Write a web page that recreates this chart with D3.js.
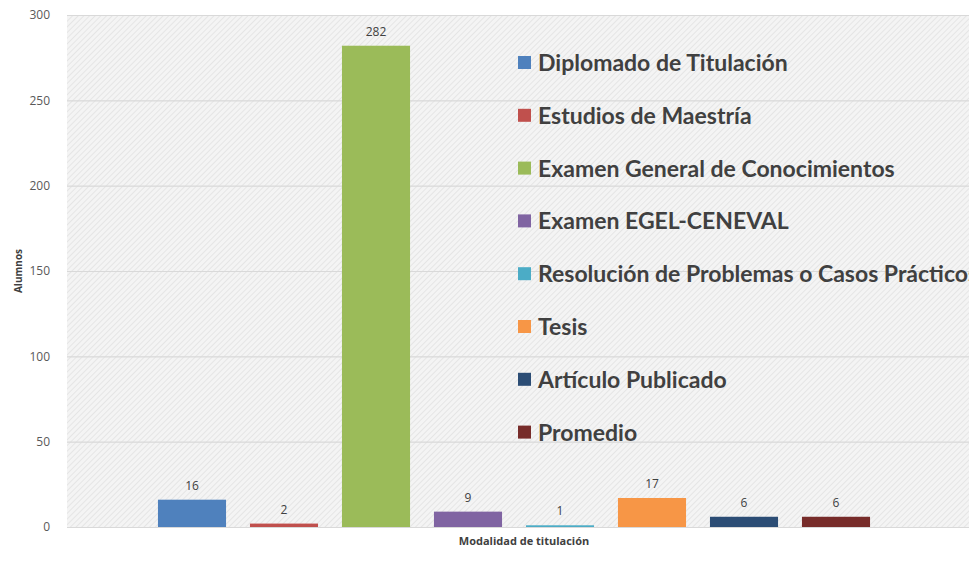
<!DOCTYPE html>
<html>
<head>
<meta charset="utf-8">
<script src="https://cdn.jsdelivr.net/npm/d3@7"></script>
<style>
  body { margin: 0; background: #fff; }
  svg { display: block; }
</style>
</head>
<body>
<div id="chart"></div>
<script>
const categories = [
  "Diplomado de Titulación",
  "Estudios de Maestría",
  "Examen General de Conocimientos",
  "Examen EGEL-CENEVAL",
  "Resolución de Problemas o Casos Prácticos",
  "Tesis",
  "Artículo Publicado",
  "Promedio"
];
const values = [16, 2, 282, 9, 1, 17, 6, 6];
const colors = ["#4F81BD", "#C0504D", "#9BBB59", "#8064A2", "#4BACC6", "#F79646", "#2C4D75", "#772C2A"];
const yTicks = [0, 50, 100, 150, 200, 250, 300];

const width = 969, height = 570;
const margin = { top: 15, right: 0, bottom: 43, left: 67 };
const innerWidth = width - margin.left - margin.right;
const innerHeight = height - margin.top - margin.bottom;

const svg = d3.select("#chart").append("svg")
  .attr("width", width)
  .attr("height", height);

// fondo rayado
const defs = svg.append("defs");
const pat = defs.append("pattern")
  .attr("id", "hatch")
  .attr("patternUnits", "userSpaceOnUse")
  .attr("width", 4)
  .attr("height", 4)
  .attr("patternTransform", "rotate(45)");
pat.append("rect").attr("width", 4).attr("height", 4).attr("fill", "#f4f4f4");
pat.append("line")
  .attr("x1", 0).attr("y1", 0).attr("x2", 0).attr("y2", 4)
  .attr("stroke", "#dcdcdc").attr("stroke-width", 1.2);

const g = svg.append("g")
  .attr("transform", `translate(${margin.left},${margin.top})`);

g.append("rect")
  .attr("width", innerWidth)
  .attr("height", innerHeight)
  .attr("fill", "url(#hatch)");

const x = d3.scaleBand()
  .domain(categories)
  .range([146 - margin.left, 882 - margin.left])
  .paddingInner(0.26)
  .paddingOuter(0.13);

const y = d3.scaleLinear()
  .domain([0, 300])
  .range([innerHeight, 0]);

// grid
g.append("g")
  .call(d3.axisLeft(y).tickValues(yTicks).tickSize(-innerWidth).tickFormat(""))
  .call(s => s.select(".domain").remove())
  .selectAll("line")
  .attr("stroke", "#d9d9d9")
  .attr("stroke-width", 1.2);

// eje Y
const yAxis = g.append("g")
  .call(d3.axisLeft(y).tickValues(yTicks).tickSize(0).tickPadding(17));
yAxis.select(".domain").remove();
yAxis.selectAll("text")
  .attr("fill", "#595959")
  .attr("font-family", "'Open Sans', sans-serif")
  .attr("font-size", "12px");

// barras
g.selectAll(".bar")
  .data(values)
  .join("rect")
  .attr("class", "bar")
  .attr("x", (d, i) => x(categories[i]))
  .attr("y", d => y(d))
  .attr("width", x.bandwidth())
  .attr("height", d => innerHeight - y(d))
  .attr("fill", (d, i) => colors[i]);

// etiquetas de datos
g.selectAll(".lbl")
  .data(values)
  .join("text")
  .attr("class", "lbl")
  .attr("x", (d, i) => x(categories[i]) + x.bandwidth() / 2)
  .attr("y", d => y(d) - 10)
  .attr("text-anchor", "middle")
  .attr("fill", "#404040")
  .attr("font-family", "'Open Sans', sans-serif")
  .attr("font-size", "12px")
  .text(d => d);

// títulos de ejes
svg.append("text")
  .attr("transform", `translate(22,${margin.top + innerHeight / 2}) rotate(-90)`)
  .attr("text-anchor", "middle")
  .attr("fill", "#404040")
  .attr("font-family", "'Open Sans', sans-serif")
  .attr("font-weight", "bold")
  .attr("font-size", "10px")
  .text("Alumnos");

svg.append("text")
  .attr("x", 524)
  .attr("y", 545)
  .attr("text-anchor", "middle")
  .attr("fill", "#404040")
  .attr("font-family", "'Open Sans', sans-serif")
  .attr("font-weight", "bold")
  .attr("font-size", "11px")
  .text("Modalidad de titulación");

// leyenda
const legend = svg.append("g")
  .attr("transform", "translate(518,63)");

const item = legend.selectAll(".item")
  .data(categories)
  .join("g")
  .attr("class", "item")
  .attr("transform", (d, i) => `translate(0,${i * 52.8})`);

item.append("rect")
  .attr("x", 0)
  .attr("y", -7)
  .attr("width", 13)
  .attr("height", 13)
  .attr("fill", (d, i) => colors[i]);

item.append("text")
  .attr("x", 20)
  .attr("y", 8)
  .attr("fill", "#404040")
  .attr("font-family", "Lato, sans-serif")
  .attr("font-weight", "bold")
  .attr("font-size", "23px")
  .text(d => d);
</script>
</body>
</html>
